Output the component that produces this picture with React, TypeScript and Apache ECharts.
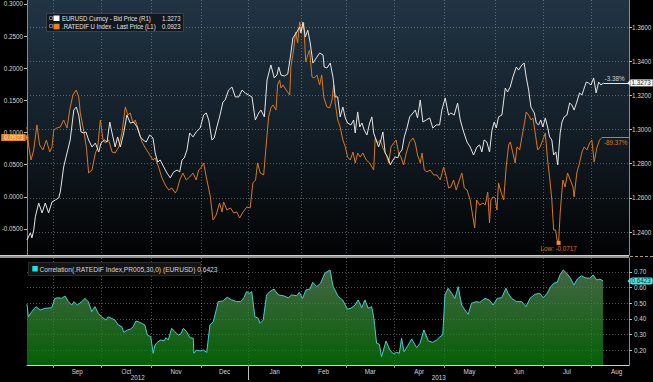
import React, { useEffect, useRef } from 'react';
import * as echarts from 'echarts';

// ---- axis / calendar (x unit = trading days from 16 Aug 2012) ----
const XMAX = 267.6;
const MONTH_STARTS = [11.6, 33.1, 55.3, 77.3, 98.4, 121.8, 141.8, 163.3, 185.3, 208, 229.3, 250.7];
const MONTH_NAMES = ['Sep', 'Oct', 'Nov', 'Dec', 'Jan', 'Feb', 'Mar', 'Apr', 'May', 'Jun', 'Jul', 'Aug'];
const LAST_MONTH_END = 273.5;
const YEAR_BREAK = 98.4;
const YEAR_NAMES = ['2012', '2013'];
const LEFT_TICKS = [-0.05, 0, 0.05, 0.1, 0.15, 0.2, 0.25, 0.3];
const RIGHT_TICKS = [1.24, 1.26, 1.28, 1.3, 1.32, 1.34, 1.36];
const CORR_TICKS = [0.2, 0.3, 0.4, 0.5, 0.6, 0.7];

// ---- series ----
const EURUSD: [number, number][] = [
  [0, 1.2354], [1.5, 1.2395], [2.2, 1.2366], [3.0, 1.2412], [3.7, 1.2489], [5.2, 1.257], [6.7, 1.2512], [8.1, 1.257], [9.6, 1.2512], [11.1, 1.2576],
  [12.6, 1.2588], [14.1, 1.26], [14.8, 1.2635], [16.3, 1.2781], [17.8, 1.2863], [19.2, 1.2939], [20.8, 1.3114], [21.9, 1.3132], [23.0, 1.3085], [24.0, 1.2986],
  [25.2, 1.298], [26.2, 1.2986], [27.4, 1.2939], [28.9, 1.2898], [30.4, 1.2921], [31.9, 1.2869], [32.9, 1.2921], [34.4, 1.2939], [35.6, 1.2927], [36.8, 1.3044],
  [37.8, 1.298], [39.2, 1.2898], [40.3, 1.2957], [41.5, 1.2898], [43.0, 1.298], [44.4, 1.3085], [45.9, 1.3038], [47.4, 1.3044], [48.9, 1.3015], [50.4, 1.2957],
  [51.6, 1.2939], [53.0, 1.2927], [54.5, 1.2968], [56.0, 1.2951], [57.0, 1.2863], [58.1, 1.281], [59.2, 1.2822], [60.8, 1.2781], [62.2, 1.2746], [63.7, 1.2717],
  [65.2, 1.2752], [66.7, 1.2763], [67.9, 1.2752], [68.9, 1.2822], [69.9, 1.2834], [71.1, 1.288], [72.3, 1.298], [73.8, 1.2957], [75.2, 1.2986], [77.0, 1.3009],
  [78.5, 1.3085], [79.7, 1.3097], [80.8, 1.3056], [82.2, 1.2939], [83.2, 1.2951], [84.4, 1.3015], [85.6, 1.3074], [87.1, 1.3161], [88.1, 1.3173], [89.6, 1.3231],
  [91.1, 1.3249], [92.6, 1.3191], [94.1, 1.3191], [95.6, 1.3231], [97.0, 1.3214], [98.5, 1.3202], [100.0, 1.3191], [101.5, 1.3056], [103.0, 1.3097], [104.0, 1.3114],
  [105.5, 1.3074], [106.7, 1.329], [108.4, 1.3378], [109.9, 1.3302], [111.1, 1.3319], [111.9, 1.3366], [112.9, 1.3319], [114.4, 1.3313], [115.9, 1.3325], [117.0, 1.3419],
  [118.2, 1.3536], [119.7, 1.3565], [121.2, 1.36], [121.8, 1.3565], [122.7, 1.3629], [123.7, 1.3542], [124.8, 1.3582], [125.9, 1.3506], [127.1, 1.3389], [128.6, 1.3419],
  [130.1, 1.3448], [131.6, 1.3436], [132.1, 1.3366], [133.3, 1.336], [134.8, 1.3389], [136.0, 1.3308], [137.0, 1.3191], [138.1, 1.3191], [139.2, 1.3074], [140.4, 1.3132],
  [141.5, 1.3068], [142.5, 1.3038], [144.0, 1.3027], [145.2, 1.3056], [145.9, 1.298], [147.0, 1.3103], [147.9, 1.3015], [148.9, 1.3038], [149.9, 1.2997], [151.1, 1.2968],
  [152.3, 1.3038], [153.3, 1.3074], [154.1, 1.298], [155.2, 1.2939], [156.3, 1.2898], [157.3, 1.2939], [158.2, 1.2986], [159.2, 1.2863], [160.3, 1.284], [161.5, 1.2793],
  [162.7, 1.2822], [163.7, 1.284], [164.8, 1.2834], [165.6, 1.2863], [166.7, 1.288], [167.7, 1.2957], [168.9, 1.3009], [170.1, 1.3074], [171.6, 1.3097], [172.6, 1.3114],
  [173.6, 1.3068], [174.8, 1.3173], [176.0, 1.3044], [177.5, 1.3056], [179.0, 1.3068], [180.4, 1.3009], [181.9, 1.3027], [183.4, 1.3027], [184.4, 1.3114], [185.9, 1.3185],
  [187.4, 1.3085], [188.4, 1.3097], [189.9, 1.3085], [191.4, 1.3155], [192.6, 1.3056], [194.1, 1.2986], [195.6, 1.2927], [197.0, 1.2898], [198.5, 1.2851], [200.0, 1.2898],
  [201.2, 1.291], [202.2, 1.2869], [203.2, 1.2939], [204.4, 1.2927], [205.6, 1.2869], [206.7, 1.2997], [207.7, 1.3044], [208.6, 1.3009], [209.6, 1.3074], [211.1, 1.3085],
  [212.6, 1.3243], [213.6, 1.322], [214.8, 1.3249], [216.0, 1.3308], [217.5, 1.3366], [218.5, 1.3348], [220.0, 1.3378], [221.0, 1.3389], [221.9, 1.3308], [223.0, 1.3231],
  [224.0, 1.3132], [225.5, 1.3097], [226.4, 1.3038], [227.4, 1.3027], [228.4, 1.3056], [229.3, 1.3015], [230.4, 1.3068], [231.4, 1.3015], [232.3, 1.2957], [233.3, 1.2939],
  [234.1, 1.2851], [235.1, 1.2869], [235.9, 1.2793], [237.0, 1.298], [237.8, 1.3044], [238.8, 1.3074], [240.0, 1.3085], [241.2, 1.3155], [242.2, 1.3144], [243.2, 1.3114],
  [244.4, 1.3161], [245.6, 1.3214], [246.7, 1.3202], [247.4, 1.3231], [248.6, 1.3278], [249.6, 1.3272], [250.7, 1.3261], [251.9, 1.3302], [253.0, 1.3214], [254.1, 1.3278],
  [255.1, 1.3261], [256.3, 1.3273],
];

const RATEDIF: [number, number][] = [
  [0, 0.1087], [0.8, 0.0776], [1.8, 0.0573], [3.0, 0.0729], [4.4, 0.1118], [5.6, 0.0807], [7.1, 0.0729], [8.6, 0.0884], [10.1, 0.0698], [11.1, 0.0776],
  [11.9, 0.104], [13.3, 0.1071], [14.8, 0.1087], [16.3, 0.1196], [17.8, 0.1071], [19.0, 0.1351], [20.4, 0.1584], [21.9, 0.1662], [23.0, 0.1553], [23.7, 0.1304],
  [24.9, 0.1087], [26.4, 0.0776], [27.4, 0.0371], [28.9, 0.0418], [30.4, 0.0682], [31.4, 0.076], [32.6, 0.1196], [33.8, 0.0884], [34.8, 0.0838], [36.3, 0.0884],
  [37.8, 0.0698], [39.2, 0.0682], [40.8, 0.0776], [42.2, 0.0993], [43.7, 0.1398], [44.8, 0.1273], [45.9, 0.1304], [47.1, 0.1149], [48.1, 0.1196], [49.6, 0.104],
  [51.1, 0.0853], [52.6, 0.076], [54.1, 0.0682], [55.1, 0.062], [56.0, 0.0573], [57.0, 0.0604], [58.5, 0.0464], [60.0, 0.0293], [61.5, 0.0184], [63.0, 0.0107],
  [64.4, 0.0138], [65.9, 0.006], [66.7, 0.0107], [67.9, 0.0262], [69.3, 0.0371], [70.8, 0.0262], [72.3, 0.0309], [73.8, 0.0371], [75.2, 0.0262], [76.3, 0.0418],
  [77.3, 0.0449], [78.5, 0.0527], [79.7, 0.0309], [81.5, -0.0002], [82.7, -0.036], [84.1, -0.0282], [85.6, -0.0096], [86.7, -0.0236], [87.4, -0.008], [88.9, -0.0205],
  [90.4, -0.0173], [91.9, -0.0251], [93.3, -0.0236], [94.5, -0.0329], [96.0, -0.0236], [97.8, -0.0158], [99.2, -0.0173], [100.4, 0.0216], [101.6, 0.0262], [102.5, 0.0527],
  [103.7, 0.0371], [105.2, 0.034], [106.4, 0.0838], [107.4, 0.1242], [108.4, 0.1382], [109.3, 0.1429], [110.7, 0.1351], [111.4, 0.174], [112.3, 0.1818], [112.9, 0.1693],
  [113.8, 0.174], [115.2, 0.1662], [116.8, 0.1584], [117.3, 0.202], [118.5, 0.2284], [119.4, 0.2564], [120.3, 0.2393], [121.2, 0.272], [122.1, 0.2596], [123.0, 0.2704],
  [123.9, 0.2098], [124.8, 0.2207], [125.6, 0.2284], [126.7, 0.1864], [127.7, 0.1849], [128.9, 0.1896], [130.1, 0.174], [131.0, 0.1896], [131.9, 0.1553], [133.3, 0.1398],
  [134.5, 0.1382], [135.6, 0.1507], [136.3, 0.174], [137.0, 0.146], [138.1, 0.1196], [139.2, 0.1087], [140.4, 0.0884], [141.5, 0.0776], [142.5, 0.062], [143.7, 0.0573],
  [144.9, 0.0698], [145.9, 0.0527], [147.0, 0.0682], [148.1, 0.062], [149.3, 0.0682], [150.8, 0.0573], [152.3, 0.0527], [154.1, 0.0418], [154.8, 0.0916], [155.9, 0.0838],
  [157.0, 0.0884], [158.2, 0.076], [159.7, 0.0651], [160.8, 0.0527], [161.8, 0.0776], [163.0, 0.0838], [164.1, 0.0884], [165.2, 0.0682], [166.2, 0.062], [167.4, 0.0496],
  [168.6, 0.0682], [170.1, 0.0853], [171.6, 0.0916], [172.6, 0.0838], [173.6, 0.0651], [174.8, 0.0527], [175.6, 0.0682], [176.6, 0.0418], [177.8, 0.0387], [179.2, 0.0418],
  [180.8, 0.034], [182.2, 0.034], [183.7, 0.0262], [185.2, 0.0464], [186.4, 0.0309], [187.4, 0.0138], [188.4, 0.0153], [189.6, 0.0262], [190.8, 0.0107], [191.9, 0.0231],
  [193.3, 0.0371], [194.4, 0.0138], [195.6, 0.0107], [197.0, -0.0049], [198.2, -0.0313], [199.0, -0.0485], [199.9, -0.0049], [201.2, -0.0127], [202.7, -0.0096], [203.7, -0.0127],
  [204.8, 0.0075], [205.6, -0.0407], [206.2, -0.0049], [207.1, -0.0002], [208.1, -0.0018], [208.9, -0.0205], [209.6, 0.0216], [210.7, 0.0075], [211.9, -0.0049], [213.0, 0.0464],
  [214.1, 0.0807], [214.8, 0.0853], [216.0, 0.0682], [217.0, 0.0527], [217.8, 0.0776], [219.0, 0.0729], [220.0, 0.0931], [221.0, 0.1118], [221.9, 0.132], [223.0, 0.1273],
  [224.0, 0.1196], [224.9, 0.1227], [225.9, 0.0993], [227.0, 0.0729], [228.1, 0.0776], [229.3, 0.0884], [230.4, 0.0993], [231.4, 0.0573], [232.3, 0.0309], [233.3, -0.0049],
  [234.1, -0.0516], [235.0, -0.0516], [235.6, -0.0671], [236.3, -0.0717], [237.0, -0.0251], [238.2, 0.0262], [239.2, 0.0153], [240.3, 0.0371], [241.5, 0.0262], [242.7, 0.0153],
  [243.2, -0.0002], [244.4, 0.0371], [245.6, 0.0527], [246.7, 0.0698], [247.7, 0.0776], [248.9, 0.0729], [250.1, 0.0838], [251.1, 0.0884], [252.1, 0.0542], [253.3, 0.076],
  [254.5, 0.0884], [255.6, 0.0923],
];

const CORR: [number, number][] = [
  [0, 0.493], [0.6, 0.413], [2.1, 0.446], [4.0, 0.478], [5.8, 0.456], [8.0, 0.467], [11.0, 0.471], [12.4, 0.531], [13.9, 0.535], [15.4, 0.531],
  [16.9, 0.546], [18.4, 0.51], [19.9, 0.488], [20.9, 0.51], [22.4, 0.488], [24.3, 0.51], [25.8, 0.531], [27.2, 0.51], [28.8, 0.446], [30.2, 0.478],
  [31.7, 0.435], [33.2, 0.413], [35.1, 0.392], [36.1, 0.413], [37.6, 0.403], [39.1, 0.392], [40.6, 0.36], [42.1, 0.349], [43.1, 0.313], [44.6, 0.328],
  [46.1, 0.335], [47.2, 0.349], [48.4, 0.386], [49.5, 0.381], [51.0, 0.371], [52.4, 0.36], [53.5, 0.296], [55.0, 0.285], [56.1, 0.179], [56.9, 0.232],
  [57.9, 0.249], [59.4, 0.264], [60.9, 0.258], [61.8, 0.279], [62.8, 0.264], [64.3, 0.339], [65.8, 0.317], [67.2, 0.296], [68.3, 0.301], [69.5, 0.339],
  [71.0, 0.317], [72.4, 0.279], [73.9, 0.275], [74.2, 0.179], [75.4, 0.2], [76.9, 0.194], [78.4, 0.2], [79.9, 0.185], [81.3, 0.36], [82.8, 0.381],
  [84.3, 0.467], [85.0, 0.51], [87.0, 0.514], [89.0, 0.538], [91.0, 0.521], [93.2, 0.51], [95.0, 0.51], [96.4, 0.535], [97.6, 0.574], [98.8, 0.563],
  [99.9, 0.574], [101.3, 0.413], [102.8, 0.403], [103.6, 0.371], [105.0, 0.392], [106.5, 0.553], [108.0, 0.574], [109.8, 0.591], [111.7, 0.553], [113.9, 0.548],
  [116.1, 0.535], [117.6, 0.553], [119.9, 0.548], [121.0, 0.57], [122.5, 0.531], [124.0, 0.585], [125.8, 0.591], [127.0, 0.634], [128.8, 0.606], [130.5, 0.628],
  [132.4, 0.692], [134.7, 0.713], [136.1, 0.606], [138.4, 0.542], [140.3, 0.521], [142.4, 0.463], [143.9, 0.467], [145.8, 0.488], [147.2, 0.521], [148.8, 0.471],
  [150.2, 0.521], [151.7, 0.467], [153.2, 0.478], [154.2, 0.403], [155.4, 0.243], [156.6, 0.237], [157.6, 0.157], [159.6, 0.258], [161.3, 0.2], [162.8, 0.176],
  [164.3, 0.185], [165.5, 0.179], [166.5, 0.275], [167.6, 0.189], [169.0, 0.221], [171.0, 0.271], [173.2, 0.215], [174.7, 0.243], [176.4, 0.328], [178.4, 0.258],
  [180.3, 0.249], [182.1, 0.264], [183.6, 0.285], [184.8, 0.296], [185.8, 0.553], [187.2, 0.596], [188.8, 0.563], [190.2, 0.531], [191.7, 0.606], [193.2, 0.488],
  [194.7, 0.456], [196.1, 0.429], [197.6, 0.499], [199.6, 0.51], [201.3, 0.506], [203.6, 0.531], [205.5, 0.521], [207.2, 0.488], [209.0, 0.531], [211.0, 0.535],
  [212.9, 0.596], [213.9, 0.563], [215.4, 0.531], [217.6, 0.51], [219.9, 0.51], [221.8, 0.478], [223.6, 0.531], [225.8, 0.557], [228.0, 0.563], [229.5, 0.535],
  [231.2, 0.563], [232.8, 0.606], [234.2, 0.628], [235.7, 0.634], [236.9, 0.681], [238.4, 0.713], [239.9, 0.692], [241.6, 0.66], [243.1, 0.617], [244.6, 0.655],
  [246.5, 0.676], [248.0, 0.663], [250.2, 0.66], [251.7, 0.681], [253.2, 0.649], [254.7, 0.655], [256.1, 0.6423],
];

const EURUSD_CHANGE = '-3.38%';
const RATEDIF_CHANGE = '-89.37%';
const EURUSD_NAME = 'EURUSD Curncy - Bid Price (R1)';
const RATEDIF_NAME = '.RATEDIF U Index - Last Price (L1)';
const CORR_NAME = 'Correlation(.RATEDIF Index,PR005,30,0) (EURUSD)';

// ---- styling ----
const FONT = "'Liberation Sans', Arial, sans-serif";
const WHITE = '#e6e6e6';
const ORANGE = '#d97a1a';
const CYAN = '#45d0d0';
const LABEL = '#d4d4d4';
const GRIDLINE = 'rgba(170,180,190,0.45)';
const FS = 6.3;

const MONTH_MIDS = MONTH_STARTS.map((s, i) => (s + (i + 1 < MONTH_STARTS.length ? MONTH_STARTS[i + 1] : LAST_MONTH_END)) / 2);
const YEAR_MIDS = [YEAR_BREAK / 2, (YEAR_BREAK + XMAX) / 2];

function nameAt(mids: number[], names: string[], v: number) {
  let best = -1;
  let bd = Infinity;
  mids.forEach((m, i) => {
    const d = Math.abs(m - v);
    if (d < bd) { bd = d; best = i; }
  });
  return best >= 0 && bd < 0.5 ? names[best] : '';
}

export default function App() {
  const ref = useRef<HTMLDivElement>(null);

  useEffect(() => {
    if (!ref.current) return;
    const chart = echarts.init(ref.current, null, { renderer: 'svg' });

    const lastW = EURUSD[EURUSD.length - 1];
    const lastO = RATEDIF[RATEDIF.length - 1];
    const lastC = CORR[CORR.length - 1];
    const low = RATEDIF.reduce((a, b) => (b[1] < a[1] ? b : a));

    const dotted = { color: GRIDLINE, width: 1, type: [1, 2] as number[] };
    const axisText = { color: LABEL, fontSize: FS, fontFamily: FONT };
    const legendText = { fill: '#e4e4e4', fontSize: 7, fontFamily: FONT, verticalAlign: 'middle' };

    const option: any = {
      animation: false,
      backgroundColor: '#000000',
      textStyle: { fontFamily: FONT },
      grid: [
        {
          left: 27, right: 24, top: 0, height: 255, show: true, borderWidth: 0, outerBoundsMode: 'none',
          backgroundColor: new echarts.graphic.LinearGradient(0, 0, 0, 1, [
            { offset: 0, color: '#213444' },
            { offset: 0.45, color: '#15212b' },
            { offset: 1, color: '#020304' },
          ]),
        },
        { left: 27, right: 24, top: 258, height: 107, show: false, outerBoundsMode: 'none' },
      ],
      xAxis: [
        {
          type: 'value', gridIndex: 0, min: 0, max: XMAX,
          axisLine: { show: false },
          axisTick: { show: false, customValues: MONTH_STARTS },
          axisLabel: { show: false },
          splitLine: { show: true, lineStyle: dotted },
        },
        {
          type: 'value', gridIndex: 1, min: 0, max: XMAX, position: 'bottom',
          axisLine: { show: true, onZero: false, lineStyle: { color: '#cfcfcf', width: 1 } },
          axisTick: { show: true, customValues: MONTH_STARTS, length: 3, lineStyle: { color: '#9a9a9a' } },
          axisLabel: { show: true, customValues: MONTH_MIDS, margin: 3, ...axisText, formatter: (v: number) => nameAt(MONTH_MIDS, MONTH_NAMES, v) },
          splitLine: { show: true, lineStyle: dotted },
        },
        {
          type: 'value', gridIndex: 1, min: 0, max: XMAX, position: 'bottom', offset: 2,
          axisLine: { show: false, onZero: false },
          axisTick: { show: true, customValues: [YEAR_BREAK], length: 13, lineStyle: { color: '#bdbdbd' } },
          axisLabel: { show: true, customValues: YEAR_MIDS, margin: 7, ...axisText, formatter: (v: number) => nameAt(YEAR_MIDS, YEAR_NAMES, v) },
          splitLine: { show: false },
        },
      ],
      yAxis: [
        {
          type: 'value', gridIndex: 0, position: 'left', min: -0.0905, max: 0.3062,
          axisLine: { show: true, onZero: false, lineStyle: { color: '#8a8a8a' } },
          axisTick: { show: true, customValues: LEFT_TICKS, length: 3, lineStyle: { color: '#bcbcbc' } },
          axisLabel: { show: true, customValues: LEFT_TICKS, margin: 4, ...axisText, formatter: (v: number) => v.toFixed(4) },
          splitLine: { show: false },
        },
        {
          type: 'value', gridIndex: 0, position: 'right', min: 1.2266, max: 1.3758,
          axisLine: { show: true, onZero: false, lineStyle: { color: '#8a8a8a' } },
          axisTick: { show: true, customValues: RIGHT_TICKS, length: 3, lineStyle: { color: '#bcbcbc' } },
          axisLabel: { show: true, customValues: RIGHT_TICKS, margin: 3, ...axisText, formatter: (v: number) => v.toFixed(4) },
          splitLine: { show: true, lineStyle: dotted },
        },
        {
          type: 'value', gridIndex: 1, position: 'right', min: 0.1039, max: 0.7897,
          axisLine: { show: true, onZero: false, lineStyle: { color: '#8a8a8a' } },
          axisTick: { show: true, customValues: CORR_TICKS, length: 3, lineStyle: { color: '#bcbcbc' } },
          axisLabel: { show: true, customValues: CORR_TICKS, margin: 5, ...axisText, formatter: (v: number) => v.toFixed(2) },
          splitLine: { show: true, lineStyle: dotted },
        },
      ],
      series: [
        {
          type: 'line', name: RATEDIF_NAME, xAxisIndex: 0, yAxisIndex: 0, data: RATEDIF,
          symbol: 'none', showSymbol: false, lineStyle: { color: ORANGE, width: 1 }, z: 3,
          markLine: {
            silent: true, symbol: 'none',
            lineStyle: { color: ORANGE, width: 1, type: 'solid' },
            label: { show: true, position: 'insideStartBottom', formatter: RATEDIF_CHANGE, color: ORANGE, fontSize: FS, fontFamily: FONT, distance: 2 },
            data: [[{ coord: [lastO[0], lastO[1]] }, { coord: [XMAX, lastO[1]] }]],
          },
          markPoint: {
            silent: true,
            data: [
              {
                coord: [low[0], low[1]], value: low[1], symbol: 'rect', symbolSize: 4,
                itemStyle: { color: '#ff8a1a' },
                label: { show: true, position: 'bottom', distance: 1, formatter: 'Low: ' + low[1].toFixed(4), color: ORANGE, fontSize: FS, fontFamily: FONT },
              },
              {
                coord: [0, lastO[1]], value: lastO[1], symbol: 'triangle', symbolSize: [7, 3], symbolRotate: -90,
                itemStyle: { color: '#e8841e' },
                label: {
                  show: true, position: 'left', distance: 0, formatter: lastO[1].toFixed(4),
                  backgroundColor: '#e8841e', color: '#fff3e0', fontSize: FS, fontFamily: FONT, padding: [1, 2, 0, 3],
                },
              },
            ],
          },
        },
        {
          type: 'line', name: EURUSD_NAME, xAxisIndex: 0, yAxisIndex: 1, data: EURUSD,
          symbol: 'none', showSymbol: false, lineStyle: { color: WHITE, width: 1 }, z: 4,
          markLine: {
            silent: true, symbol: 'none',
            lineStyle: { color: WHITE, width: 1, type: 'solid' },
            label: { show: true, position: 'insideStartTop', formatter: EURUSD_CHANGE, color: LABEL, fontSize: FS, fontFamily: FONT, distance: 1 },
            data: [[{ coord: [lastW[0], lastW[1]] }, { coord: [XMAX, lastW[1]] }]],
          },
          markPoint: {
            silent: true,
            data: [
              {
                coord: [XMAX, lastW[1]], value: lastW[1], symbol: 'triangle', symbolSize: [7, 3], symbolRotate: 90,
                itemStyle: { color: '#f2f2f2' },
                label: {
                  show: true, position: 'right', distance: 0, formatter: lastW[1].toFixed(4),
                  backgroundColor: '#f2f2f2', color: '#333333', fontSize: FS, fontFamily: FONT, padding: [1, 2, 0, 1],
                },
              },
            ],
          },
        },
        {
          type: 'line', name: CORR_NAME, xAxisIndex: 1, yAxisIndex: 2, data: CORR,
          symbol: 'none', showSymbol: false, lineStyle: { color: CYAN, width: 1 }, z: 3,
          areaStyle: {
            origin: 'start',
            color: new echarts.graphic.LinearGradient(0, 0, 0, 1, [
              { offset: 0, color: '#5f915f' },
              { offset: 1, color: '#08880a' },
            ]),
          },
          markPoint: {
            silent: true,
            data: [
              {
                coord: [XMAX, lastC[1]], value: lastC[1], symbol: 'triangle', symbolSize: [7, 3], symbolRotate: 90,
                itemStyle: { color: '#4fe3e3' },
                label: {
                  show: true, position: 'right', distance: 0, formatter: lastC[1].toFixed(4),
                  backgroundColor: '#4fe3e3', color: '#0a3a3a', fontSize: FS, fontFamily: FONT, padding: [1, 2, 0, 1], borderRadius: 2,
                },
              },
            ],
          },
        },
      ],
      graphic: [
        // panel separator
        { type: 'rect', z: 50, shape: { x: 0, y: 255, width: 629, height: 3 }, style: { fill: '#8f8f8f' } },
        { type: 'rect', z: 51, shape: { x: 0, y: 255, width: 629, height: 1 }, style: { fill: '#cfcfcf' } },
        { type: 'line', z: 51, shape: { x1: 630, y1: 256.5, x2: 653, y2: 256.5 }, style: { stroke: '#b59c55', lineWidth: 1, lineDash: [3, 2] } },
        // top legend
        { type: 'rect', z: 60, shape: { x: 46.5, y: 13.5, width: 137, height: 18 }, style: { fill: 'rgba(16,22,28,0.92)', stroke: '#39424a', lineWidth: 1 } },
        { type: 'rect', z: 61, shape: { x: 49.5, y: 16.5, width: 3, height: 3 }, style: { fill: 'none', stroke: '#8c8c8c', lineWidth: 0.8 } },
        { type: 'rect', z: 61, shape: { x: 53.5, y: 15.5, width: 6, height: 5.5 }, style: { fill: '#ffffff' } },
        { type: 'text', z: 61, x: 62, y: 18.5, scaleX: 0.86, style: { text: EURUSD_NAME, ...legendText } },
        { type: 'text', z: 61, x: 180.5, y: 18.5, scaleX: 0.86, style: { text: lastW[1].toFixed(4), ...legendText, align: 'right' } },
        { type: 'rect', z: 61, shape: { x: 49.5, y: 24.5, width: 3, height: 3 }, style: { fill: 'none', stroke: '#8c8c8c', lineWidth: 0.8 } },
        { type: 'rect', z: 61, shape: { x: 53.5, y: 23.8, width: 6, height: 5.5 }, style: { fill: '#ee8312' } },
        { type: 'text', z: 61, x: 62, y: 26.8, scaleX: 0.86, style: { text: RATEDIF_NAME, ...legendText } },
        { type: 'text', z: 61, x: 180.5, y: 26.8, scaleX: 0.86, style: { text: lastO[1].toFixed(4), ...legendText, align: 'right' } },
        // bottom legend
        { type: 'rect', z: 60, shape: { x: 28.5, y: 262.5, width: 172, height: 13 }, style: { fill: 'rgba(22,22,22,0.92)', stroke: '#2a2a2a', lineWidth: 1 } },
        { type: 'rect', z: 61, shape: { x: 32.3, y: 266, width: 5.5, height: 5.5 }, style: { fill: '#19e6e6' } },
        { type: 'text', z: 61, x: 39.5, y: 269, scaleX: 0.95, style: { text: CORR_NAME + ' ' + lastC[1].toFixed(4), ...legendText, fill: '#d8d8d8' } },
      ],
    };

    chart.setOption(option);
    return () => chart.dispose();
  }, []);

  return (
    <div
      ref={ref}
      style={{ position: 'absolute', left: 0, top: 0, width: 653, height: 382, background: '#000' }}
    />
  );
}
